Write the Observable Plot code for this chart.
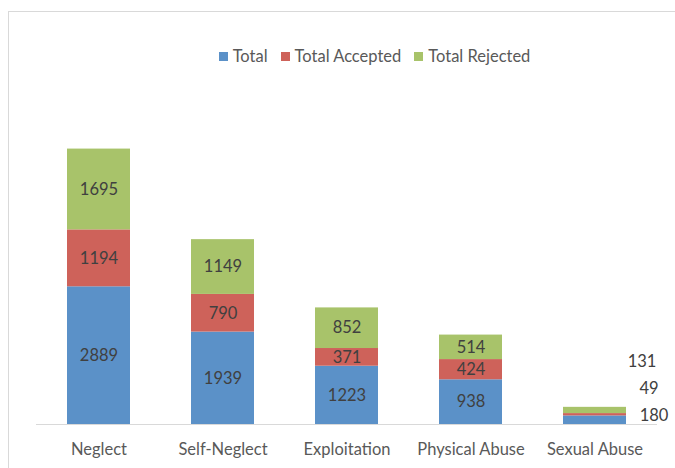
<!DOCTYPE html>
<html>
<head>
<meta charset="utf-8">
<script src="https://cdn.jsdelivr.net/npm/d3@7"></script>
<script src="https://cdn.jsdelivr.net/npm/@observablehq/plot@0.6"></script>
<style>
  html, body { margin: 0; padding: 0; background: #fff; overflow: hidden; width: 675px; height: 468px; }
  body { position: relative; font-family: Lato, "Open Sans", sans-serif; }
  #frame { position: absolute; left: 8px; top: 11px; width: 720px; height: 520px; border: 1px solid #d9d9d9; box-sizing: border-box; pointer-events: none; }
  #legend { height: 70px; display: flex; justify-content: center; align-items: center; padding-left: 74px; padding-top: 42px; box-sizing: border-box; font-size: 16.5px; color: #595959; gap: 13px; }
  #legend span.item { display: inline-flex; align-items: center; white-space: nowrap; }
  #legend span.sw { display: inline-block; width: 9px; height: 9px; margin-right: 5px; }
  #chart svg { display: block; }
</style>
</head>
<body>
<div id="frame"></div>
<div id="legend"></div>
<div id="chart"></div>
<script>
const categories = ["Neglect", "Self-Neglect", "Exploitation", "Physical Abuse", "Sexual Abuse"];
const seriesNames = ["Total", "Total Accepted", "Total Rejected"];
const total = [2889, 1939, 1223, 938, 180];
const totalAccepted = [1194, 790, 371, 424, 49];
const totalRejected = [1695, 1149, 852, 514, 131];
const colors = ["#5b91c8", "#ce625a", "#a8c36a"];

const seriesValues = [total, totalAccepted, totalRejected];
const data = [];
seriesNames.forEach((s, si) => {
  categories.forEach((c, ci) => {
    data.push({category: c, series: s, value: seriesValues[si][ci], si});
  });
});

// legend
const legend = document.getElementById("legend");
seriesNames.forEach((s, i) => {
  const item = document.createElement("span");
  item.className = "item";
  const sw = document.createElement("span");
  sw.className = "sw";
  sw.style.background = colors[i];
  item.appendChild(sw);
  item.appendChild(document.createTextNode(s));
  legend.appendChild(item);
});

const outsideCat = categories[categories.length - 1];
const insideData = data.filter(d => d.category !== outsideCat);
const outsideDx = [59, 54, 47];

const outsideMarks = seriesNames.map((s, i) =>
  Plot.text(data.filter(d => d.category === outsideCat && d.series === s), {
    x: "category",
    y: () => 0,
    text: d => String(d.value),
    dx: outsideDx[i],
    dy: -9 - 27 * i,
    fill: "#404040",
    fontSize: 16.5
  })
);

const chart = Plot.plot({
  width: 675,
  height: 398,
  marginLeft: 36,
  marginRight: 18,
  marginTop: 68,
  marginBottom: 44,
  style: {fontFamily: "Lato, 'Open Sans', sans-serif", background: "transparent"},
  x: {domain: categories, paddingInner: 0.49, paddingOuter: 0.245, label: null, tickSize: 0, tickPadding: 19},
  y: {domain: [0, 6000], axis: null},
  color: {domain: seriesNames, range: colors},
  marks: [
    Plot.barY(data, {x: "category", y: "value", fill: "series", order: seriesNames}),
    Plot.ruleY([0], {stroke: "#d9d9d9", strokeWidth: 1}),
    Plot.text(insideData, Plot.stackY({x: "category", y: "value", z: "series", order: seriesNames, text: d => String(d.value), fill: "#404040", fontSize: 16.5})),
    ...outsideMarks,
    Plot.axisX({tickSize: 0, tickPadding: 19, fontSize: 16.5, color: "#595959", label: null})
  ]
});
chart.querySelectorAll("g[aria-label='x-axis tick label'] text, g[aria-label='x-axis tick label']").forEach(el => { el.setAttribute("fill", "#595959"); });
document.getElementById("chart").appendChild(chart);
</script>
</body>
</html>
